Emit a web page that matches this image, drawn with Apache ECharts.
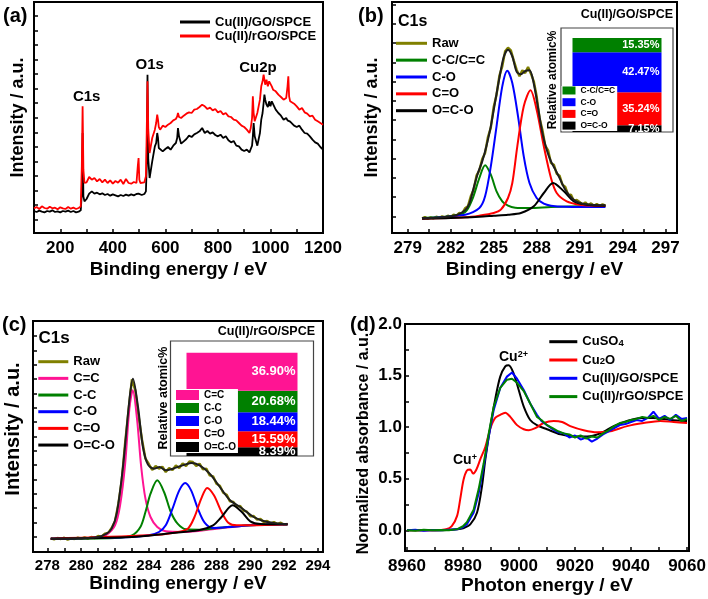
<!DOCTYPE html>
<html><head><meta charset="utf-8">
<script src="https://cdn.jsdelivr.net/npm/echarts@6/dist/echarts.min.js"></script>
<style>html,body{margin:0;padding:0;background:#fff}#c{width:708px;height:599px}</style>
</head><body><div id="c"></div>
<script>
// ---------- (a) XPS survey ----------
const aEnergy = [100,110,120,130,140,150,160,170,180,190,200,210,220,230,240,250,260,270,278,282,285,288,292,300,310,320,330,340,350,360,370,380,390,400,410,420,430,440,450,460,470,480,490,495,498,501,505,510,520,526,529,532,535,540,550,560,565,569,572,575,580,590,600,610,620,630,640,645,648,652,660,670,680,690,700,710,720,730,740,750,760,770,780,790,800,810,820,830,840,850,860,870,880,890,900,910,920,925,930,933,936,940,950,960,965,970,974,977,980,985,990,995,1000,1005,1010,1020,1030,1040,1050,1060,1065,1068,1071,1075,1080,1090,1100,1110,1120,1130,1140,1150,1160,1170,1180,1190,1200];
const aGO = [66,63,67,64,62,66,64,68,63,65,62,66,64,67,63,66,62,64,68,120,300,110,95,102,118,125,118,121,116,119,114,117,112,116,113,110,114,111,115,112,116,113,117,115,118,116,119,114,117,125,200,475,220,165,215,260,270,300,285,255,250,245,252,258,250,262,270,285,315,290,268,275,282,292,288,296,300,305,315,300,306,298,302,294,290,295,285,290,278,272,276,262,260,250,246,250,242,252,262,290,330,290,262,300,340,360,390,415,400,385,378,395,380,395,400,370,360,352,340,345,338,336,342,334,330,322,318,322,310,300,298,290,280,272,268,258,250];
const aRGO = [74,78,72,80,75,73,79,74,76,71,77,74,72,78,73,76,72,75,80,200,380,190,150,152,168,160,165,155,162,152,160,150,158,148,156,151,160,147,162,150,148,153,150,200,225,160,150,156,152,170,300,455,310,240,285,310,330,355,340,318,310,322,318,325,330,338,342,350,360,348,345,352,358,362,360,370,372,378,385,380,372,376,368,372,362,366,356,360,350,348,340,338,330,322,318,310,300,315,345,410,360,335,360,400,440,455,475,460,445,460,440,455,460,440,430,425,415,408,400,405,440,470,410,395,398,388,380,370,375,362,358,350,352,340,335,330,325];

// ---------- (b) C1s of Cu(II)/GO/SPCE ----------
const bRawEnergy = [280.0,280.2,280.4,280.6,280.8,281.0,281.2,281.4,281.6,281.8,282.0,282.2,282.4,282.6,282.8,283.0,283.2,283.4,283.6,283.8,284.0,284.2,284.4,284.6,284.8,285.0,285.2,285.4,285.6,285.8,286.0,286.2,286.4,286.6,286.8,287.0,287.2,287.4,287.6,287.8,288.0,288.2,288.4,288.6,288.8,289.0,289.2,289.4,289.6,289.8,290.0,290.2,290.4,290.6,290.8,291.0,291.2,291.4,291.6,291.8,292.0,292.2,292.4,292.6,292.8];
const bRaw = [44,48,43,47,44,49,45,50,46,52,48,55,52,60,58,74,80,110,130,172,188,222,240,288,316,378,415,472,500,545,556,548,518,490,470,488,480,498,478,455,410,345,310,262,248,210,205,178,172,145,138,114,115,96,99,93,85,92,83,89,82,87,81,86,82];
const bEnvEnergy = [280,281,282,282.5,283,283.3,283.6,283.9,284.2,284.5,284.8,285.1,285.4,285.7,286.0,286.3,286.6,286.9,287.2,287.5,287.8,288.1,288.4,288.7,289.0,289.3,289.6,290.0,290.5,291,291.5,292,292.8];
const bEnv = [45,46,50,55,68,88,135,180,215,262,320,393,465,528,550,530,484,476,486,488,448,375,300,250,215,190,165,130,103,90,86,84,83];
const bGreenEnergy = [280,282,283,283.5,284,284.4,284.8,285.2,285.6,286,286.5,287.5,289,291,292.8];
const bGreen = [45,50,62,100,165,203,175,125,95,82,76,75,78,80,80];
const bBlueEnergy = [280,283,284,284.4,284.8,285.2,285.6,285.95,286.3,286.7,287.1,287.5,288,288.5,289,290,292.8];
const bBlue = [44,55,75,110,200,320,440,487,450,350,230,150,105,88,82,79,78];
const bRedEnergy = [280,283,284,285,285.5,286,286.3,286.65,287.1,287.57,288,288.5,289,289.4,290.1,291,292,292.8];
const bRed = [43,47,52,60,70,105,150,260,380,428,370,260,165,120,95,85,82,81];
const bBlackEnergy = [280,282,284,285,286,286.9,287.8,288.5,289.15,289.9,290.6,291.5,292.8];
const bBlack = [43,45,49,52,55,60,80,120,150,125,95,85,82];
const bInsetNames = ['O=C-O','C=O','C-O','C-C/C=C'];
const bInsetValues = [7.15,35.24,42.47,15.35];

// ---------- (c) C1s of Cu(II)/rGO/SPCE ----------
const cRawEnergy = [278.2,278.4,278.6,278.8,279.0,279.2,279.4,279.6,279.8,280.0,280.2,280.4,280.6,280.8,281.0,281.2,281.4,281.6,281.8,282.0,282.2,282.4,282.6,282.8,283.0,283.2,283.4,283.6,283.8,284.0,284.2,284.4,284.6,284.8,285.0,285.2,285.4,285.6,285.8,286.0,286.2,286.4,286.6,286.8,287.0,287.2,287.4,287.6,287.8,288.0,288.2,288.4,288.6,288.8,289.0,289.2,289.4,289.6,289.8,290.0,290.2,290.4,290.6,290.8,291.0,291.2,291.4,291.6,291.8,292.0,292.2];
const cRaw = [41,38,42,39,43,37,41,39,43,40,44,40,45,42,48,46,55,57,72,92,145,215,328,425,518,485,405,336,280,264,246,258,250,256,240,252,246,260,252,266,258,272,270,258,265,248,250,230,227,205,199,178,172,152,150,136,138,124,121,107,108,97,99,90,93,86,90,84,88,82,84];
const cEnvEnergy = [278.2,279,280,281,281.5,281.8,282.1,282.47,282.87,283.06,283.36,283.65,283.95,284.3,284.64,285.0,285.43,286.0,286.5,287.0,287.6,288.2,288.8,289.4,290.2,291,292.2];
const cEnv = [40,40,41,45,55,70,115,255,465,520,435,315,262,250,255,245,250,260,267,260,235,195,155,135,105,90,83];
const cPinkEnergy = [278.2,280,281,281.5,282,282.3,282.6,282.85,283.05,283.3,283.55,283.8,284.1,284.5,285,286,288,290,292.2];
const cPink = [40,41,44,52,80,140,265,430,485,400,255,160,105,75,62,60,70,80,83];
const cGreenEnergy = [278.2,282,283,283.5,283.8,284.1,284.5,284.9,285.3,285.7,286.2,287,288,290,292.2];
const cGreen = [40,42,50,75,120,175,215,180,120,85,68,67,72,80,83];
const cBlueEnergy = [278.2,283,284,284.6,285,285.4,285.8,286.15,286.5,286.9,287.3,287.8,289,290,292.2];
const cBlue = [40,45,50,60,80,130,185,207,185,130,88,72,76,80,83];
const cRedEnergy = [278.2,284,285.5,286.3,286.7,287.1,287.45,287.85,288.3,288.7,289.2,290,292.2];
const cRed = [40,50,58,70,105,160,192,170,120,88,80,80,83];
const cBlackEnergy = [278.2,283,285,287,287.8,288.3,288.95,289.5,290,290.6,292.2];
const cBlack = [40,45,55,66,80,105,140,120,92,84,83];
const cInsetNames = ['O=C-O','C=O','C-O','C-C','C=C'];
const cInsetValues = [8.39,15.59,18.44,20.68,36.90];

// ---------- (d) XANES ----------
const dCuSO4Energy = [8960,8970,8975,8978,8980,8982.6,8985,8986.8,8988,8989.8,8991.5,8993.3,8995.1,8996.3,8998.1,8999.9,9001.7,9004,9006.4,9010,9014.8,9019.5,9024.3,9029,9033.8,9038.6,9043.3,9048,9054,9060];
const dCuSO4 = [0,0,0.005,0.01,0.02,0.058,0.17,0.43,0.69,1.01,1.27,1.49,1.59,1.60,1.52,1.36,1.20,1.07,1.02,0.98,0.93,0.91,0.91,0.94,1.01,1.06,1.09,1.09,1.07,1.06];
const dCu2OEnergy = [8960,8970,8974,8976,8977.9,8979,8980.2,8981.4,8982.6,8983.6,8984.8,8986.2,8988,8989.8,8991.5,8993.3,8995.1,8996.9,8999.3,9001.7,9003.5,9005.8,9008.8,9012.4,9015.4,9018.3,9023.1,9027.9,9032.6,9038.6,9044.5,9050.5,9055.2,9060];
const dCu2O = [0,0,0.01,0.04,0.14,0.30,0.49,0.58,0.59,0.55,0.59,0.69,0.81,0.99,1.09,1.12,1.14,1.10,1.02,0.98,0.97,0.99,1.04,1.06,1.05,1.01,0.97,0.95,0.96,1.01,1.04,1.06,1.05,1.04];
const dSampleEnergy = [8960,8963,8966,8969,8972,8975,8978,8980,8981.4,8983.8,8985.6,8987.4,8989.2,8991,8993.3,8995.7,8997.5,8999.3,9001.7,9004,9006.4,9008,9010,9012,9014,9016,9018,9020,9022,9024,9026,9028,9030,9032,9034,9036,9038,9040,9042,9044,9046,9048,9050,9052,9054,9056,9058,9060];
const dGO = [0.0,0.005,-0.005,0.004,0.0,0.006,0.01,0.03,0.06,0.17,0.36,0.62,0.91,1.17,1.38,1.49,1.53,1.47,1.36,1.23,1.12,1.06,1.02,0.98,0.95,0.94,0.90,0.92,0.88,0.90,0.86,0.89,0.93,0.96,0.99,1.02,1.03,1.05,1.07,1.06,1.09,1.15,1.08,1.11,1.07,1.12,1.08,1.09];
const dRGO = [0.0,-0.004,0.005,0.0,0.004,0.002,0.012,0.04,0.08,0.20,0.40,0.65,0.94,1.20,1.38,1.46,1.47,1.43,1.35,1.23,1.10,1.07,1.02,0.99,0.96,0.94,0.93,0.90,0.92,0.89,0.91,0.90,0.94,0.97,1.01,1.04,1.05,1.07,1.08,1.10,1.09,1.11,1.07,1.10,1.08,1.11,1.06,1.08];

// ---------- tick / label values ----------
const aXLabels = [200,400,600,800,1000,1200];
const aXTicks = [200,300,400,500,600,700,800,900,1000,1100,1200];
const aYTicks = [40,83.7,127.4,171.1,214.8,258.5,302.2,345.9,389.6,433.3,477,520.7,564.4,608.1,651.8];
const bXLabels = [279,282,285,288,291,294,297];
const bXTicks = [279,280.5,282,283.5,285,286.5,288,289.5,291,292.5,294,295.5,297];
const bYTicks = [50,107.7,165.4,223.1,280.8,338.5,396.2,453.9,511.6,569.3,627,684.7];
const cXLabels = [278,280,282,284,286,288,290,292,294];
const cXTicks = [278,279,280,281,282,283,284,285,286,287,288,289,290,291,292,293,294];
const cYTicks = [46,89,132,175,218,261,304,347,390,433,476,519,562,605,648];
const dXLabels = [8960,8980,9000,9020,9040,9060];
const dXTicks = [8960,8970,8980,8990,9000,9010,9020,9030,9040,9050,9060];
const dYLabels = [0,0.5,1.0,1.5,2.0];
const dYTicks = [0,0.25,0.5,0.75,1.0,1.25,1.5,1.75,2.0];

// ---------- build ----------
const FONT = 'Liberation Sans';
const COL = {olive:'#808000', green:'#008000', blue:'#0000FF', red:'#FF0000', black:'#000000', pink:'#FF1493', env:'#1e1e1e'};
const strip = n => n.slice(n.indexOf(':') + 1);

function ln(name, ax, xs, ys, color, width, smooth, z) {
  return {type:'line', name, xAxisIndex:ax, yAxisIndex:ax, data: xs.map((x,i)=>[x, ys[i]]),
    showSymbol:false, symbol:'none', smooth: smooth || false, color, z: z || 2,
    lineStyle:{color, width}, emphasis:{disabled:true}, animation:false};
}
function bar(name, ax, val, color, width, fs, stack) {
  return {type:'bar', name, xAxisIndex:ax, yAxisIndex:ax, stack, data:[val], barWidth:width, color,
    itemStyle:{color}, emphasis:{disabled:true},
    label:{show:true, position:'insideRight', distance:2, color:'#fff', fontWeight:'bold', fontSize:fs, fontFamily:FONT,
      formatter: p => p.value.toFixed(2) + '%'}};
}
function xAx(grid, min, max, labels, ticks, name, nameGap, fs, margin) {
  return {type:'value', gridIndex:grid, min, max, name, nameLocation:'middle', nameGap,
    nameTextStyle:{fontSize:19, fontWeight:'bold', fontFamily:FONT, color:'#000'},
    axisLine:{show:true, onZero:false, lineStyle:{color:'#000', width:2}},
    axisTick:{show:true, inside:true, length:4, customValues:ticks, lineStyle:{color:'#000', width:1.5}},
    axisLabel:{show:true, customValues:labels, margin, fontSize:fs, fontWeight:'bold', fontFamily:FONT, color:'#000',
      formatter: v => String(v)},
    splitLine:{show:false}};
}
function yAx(grid, min, max, ticks, name, nameGap, fs, pad, labels) {
  return {type:'value', gridIndex:grid, min, max, name, nameLocation:'middle', nameGap,
    nameTextStyle:{fontSize:fs, fontWeight:'bold', fontFamily:FONT, color:'#000', padding:pad || 0},
    axisLine:{show:true, onZero:false, lineStyle:{color:'#000', width:2}},
    axisTick:{show:true, inside:true, length:4, customValues:ticks, lineStyle:{color:'#000', width:1.5}},
    axisLabel: labels ? {show:true, customValues:labels, margin:3, fontSize:17, fontWeight:'bold', fontFamily:FONT, color:'#000', formatter: v => Number(v).toFixed(1)} : {show:false},
    splitLine:{show:false}};
}
const mainGrid = (left, top, width, height) => ({left, top, width, height, show:true, borderColor:'#000', borderWidth:2, containLabel:false, outerBoundsMode:'none'});
const insetGrid = (left, top, width, height) => ({left, top, width, height, show:true, borderColor:'#444', borderWidth:1.2, backgroundColor:'transparent', containLabel:false, outerBoundsMode:'none'});
const hidX = grid => ({type:'category', gridIndex:grid, data:['s'], show:false});
const hidY = (grid, max) => ({type:'value', gridIndex:grid, min:0, max, show:false});

function txt(text, x, y, size, align, rot, rich) {
  const st = {text, fontSize:size, fontWeight:'bold', fontFamily:FONT, fill:'#000',
    align: align || 'left', textAlign: align || 'left', verticalAlign:'middle', textVerticalAlign:'middle'};
  if (rich) st.rich = rich;
  const el = {type:'text', x, y, z:100, style:st, silent:true};
  if (rot) el.rotation = rot;
  return el;
}

const lgText = (fs, lh) => ({fontSize:fs, fontWeight:'bold', fontFamily:FONT, color:'#000', lineHeight:lh});

const series = [
  ln('a:Cu(II)/GO/SPCE', 0, aEnergy, aGO, COL.black, 1.8),
  ln('a:Cu(II)/rGO/SPCE', 0, aEnergy, aRGO, COL.red, 1.8),

  ln('b:Raw', 1, bRawEnergy, bRaw, COL.olive, 2.4),
  ln('b:C-C/C=C', 1, bGreenEnergy, bGreen, COL.green, 2, 0.3),
  ln('b:C-O', 1, bBlueEnergy, bBlue, COL.blue, 2, 0.3),
  ln('b:C=O', 1, bRedEnergy, bRed, COL.red, 2, 0.3),
  ln('b:O=C-O', 1, bBlackEnergy, bBlack, COL.black, 2, 0.3),
  ln('b:envelope', 1, bEnvEnergy, bEnv, COL.env, 2, 0.3, 3),

  ln('c:Raw', 3, cRawEnergy, cRaw, COL.olive, 2.4),
  ln('c:C=C', 3, cPinkEnergy, cPink, COL.pink, 2, 0.3),
  ln('c:C-C', 3, cGreenEnergy, cGreen, COL.green, 2, 0.3),
  ln('c:C-O', 3, cBlueEnergy, cBlue, COL.blue, 2, 0.3),
  ln('c:C=O', 3, cRedEnergy, cRed, COL.red, 2, 0.3),
  ln('c:O=C-O', 3, cBlackEnergy, cBlack, COL.black, 2, 0.3),
  ln('c:envelope', 3, cEnvEnergy, cEnv, COL.env, 2, 0.3, 3),

  ln('d:CuSO4', 5, dCuSO4Energy, dCuSO4, COL.black, 2, 0.3),
  ln('d:Cu2O', 5, dCu2OEnergy, dCu2O, COL.red, 2, 0.3),
  ln('d:Cu(II)/GO/SPCE', 5, dSampleEnergy, dGO, COL.blue, 2),
  ln('d:Cu(II)/rGO/SPCE', 5, dSampleEnergy, dRGO, COL.green, 2)
];
const bInsetColors = [COL.black, COL.red, COL.blue, COL.green];
bInsetNames.forEach((n,i) => series.push(bar('bi:' + n, 2, bInsetValues[i], bInsetColors[i], 89, 11, 'sb')));
const cInsetColors = [COL.black, COL.red, COL.blue, COL.green, COL.pink];
cInsetNames.forEach((n,i) => series.push(bar('ci:' + n, 4, cInsetValues[i], cInsetColors[i], 111, 13, 'sc')));

const option = {
  animation:false,
  backgroundColor:'#fff',
  grid:[
    mainGrid(34, 2, 289, 231),
    mainGrid(392, 2, 285, 231),
    insetGrid(561, 28, 112, 104),
    mainGrid(33, 321, 290, 231),
    insetGrid(170.5, 341, 143, 115),
    mainGrid(405, 324, 284, 227)
  ],
  xAxis:[
    xAx(0, 100, 1200, aXLabels, aXTicks, 'Binding energy / eV', 27.5, 17, 7),
    xAx(1, 277.9, 297.8, bXLabels, bXTicks, 'Binding energy / eV', 27.5, 17, 7),
    hidX(2),
    xAx(3, 277.15, 294.3, cXLabels, cXTicks, 'Binding energy / eV', 21, 15, 6),
    hidX(4),
    xAx(5, 8959.3, 9060.7, dXLabels, dXTicks, 'Photon energy / eV', 23.5, 17, 7)
  ],
  yAxis:[
    yAx(0, 0, 693, aYTicks, 'Intensity / a.u.', 7, 18),
    yAx(1, 0, 693, bYTicks, 'Intensity / a.u.', 10.5, 18),
    hidY(2, 110.8),
    yAx(3, 0, 693, cYTicks, 'Intensity / a.u.', 10, 20, [0,0,0,15]),
    hidY(4, 111.3),
    yAx(5, -0.2, 2.0, dYTicks, 'Normalized absorbance / a.u.', 33, 16, [0,12,0,0], dYLabels)
  ],
  legend:[
    {left:180, top:15.5, orient:'vertical', icon:'rect', itemWidth:30, itemHeight:3, itemGap:1, padding:0,
      data:['a:Cu(II)/GO/SPCE','a:Cu(II)/rGO/SPCE'], formatter:strip, textStyle:lgText(13,13), selectedMode:false},
    {left:396, top:36.8, orient:'vertical', icon:'rect', itemWidth:31, itemHeight:3, itemGap:3.85, padding:0,
      data:['b:Raw','b:C-C/C=C','b:C-O','b:C=O','b:O=C-O'], formatter:strip, textStyle:lgText(13,13), selectedMode:false},
    {left:561.5, top:86, orient:'vertical', icon:'rect', itemWidth:13, itemHeight:8, itemGap:2.7, padding:[0,2,1,1],
      backgroundColor:'#fff', data:['bi:C-C/C=C','bi:C-O','bi:C=O','bi:O=C-O'], formatter:strip, textStyle:lgText(8.5,9), selectedMode:false},
    {left:38.3, top:355.2, orient:'vertical', icon:'rect', itemWidth:30, itemHeight:3, itemGap:3.67, padding:0,
      data:['c:Raw','c:C=C','c:C-C','c:C-O','c:C=O','c:O=C-O'], formatter:strip, textStyle:lgText(13,13), selectedMode:false},
    {left:175, top:389, orient:'vertical', icon:'rect', itemWidth:23, itemHeight:10, itemGap:3, padding:[1,2,1,1],
      backgroundColor:'#fff', data:['ci:C=C','ci:C-C','ci:C-O','ci:C=O','ci:O=C-O'], formatter:strip, textStyle:lgText(10,10), selectedMode:false},
    {left:549.3, top:335.2, orient:'vertical', icon:'rect', itemWidth:28, itemHeight:3, itemGap:5.3, padding:0,
      data:['d:CuSO4','d:Cu2O','d:Cu(II)/GO/SPCE','d:Cu(II)/rGO/SPCE'], selectedMode:false,
      formatter: n => {
        const s = strip(n);
        if (s === 'CuSO4') return '{n|CuSO}{s|4}';
        if (s === 'Cu2O') return '{n|Cu}{s|2}{n|O}';
        return '{n|' + s + '}';
      },
      textStyle:{fontSize:13, fontWeight:'bold', fontFamily:FONT, color:'#000', lineHeight:13,
        rich:{n:{fontSize:13, fontWeight:'bold', fontFamily:FONT, color:'#000', lineHeight:13},
              s:{fontSize:9.5, fontWeight:'bold', fontFamily:FONT, color:'#000', lineHeight:7, verticalAlign:'bottom'}}}}
  ],
  graphic:[
    txt('(a)', 3, 16, 20),
    txt('(b)', 358, 16, 20),
    txt('(c)', 2, 325, 20),
    txt('(d)', 350, 325, 20),
    txt('C1s', 86.7, 97, 15, 'center'),
    txt('O1s', 149.7, 65, 15, 'center'),
    txt('Cu2p', 258, 68, 15, 'center'),
    txt('C1s', 398, 22, 16),
    txt('C1s', 38.5, 338.5, 17),
    txt('Cu(II)/GO/SPCE', 673, 15, 12.5, 'right'),
    txt('Cu(II)/rGO/SPCE', 315, 332, 12.5, 'right'),
    txt('Relative atomic%', 553, 80, 12, 'center', Math.PI/2),
    txt('Relative atomic%', 163.5, 398, 12.5, 'center', Math.PI/2),
    txt('{a|Cu}{b|2+}', 499, 357, 14, 'left', 0,
      {a:{fontSize:14, fontWeight:'bold', fontFamily:FONT, fill:'#000', lineHeight:14},
       b:{fontSize:9, fontWeight:'bold', fontFamily:FONT, fill:'#000', lineHeight:7, verticalAlign:'top'}}),
    txt('{a|Cu}{b|+}', 453, 460, 14, 'left', 0,
      {a:{fontSize:14, fontWeight:'bold', fontFamily:FONT, fill:'#000', lineHeight:14},
       b:{fontSize:9, fontWeight:'bold', fontFamily:FONT, fill:'#000', lineHeight:7, verticalAlign:'top'}})
  ],
  series
};
const chart = echarts.init(document.getElementById('c'), null, {renderer:'canvas'});
chart.setOption(option);
</script></body></html>
